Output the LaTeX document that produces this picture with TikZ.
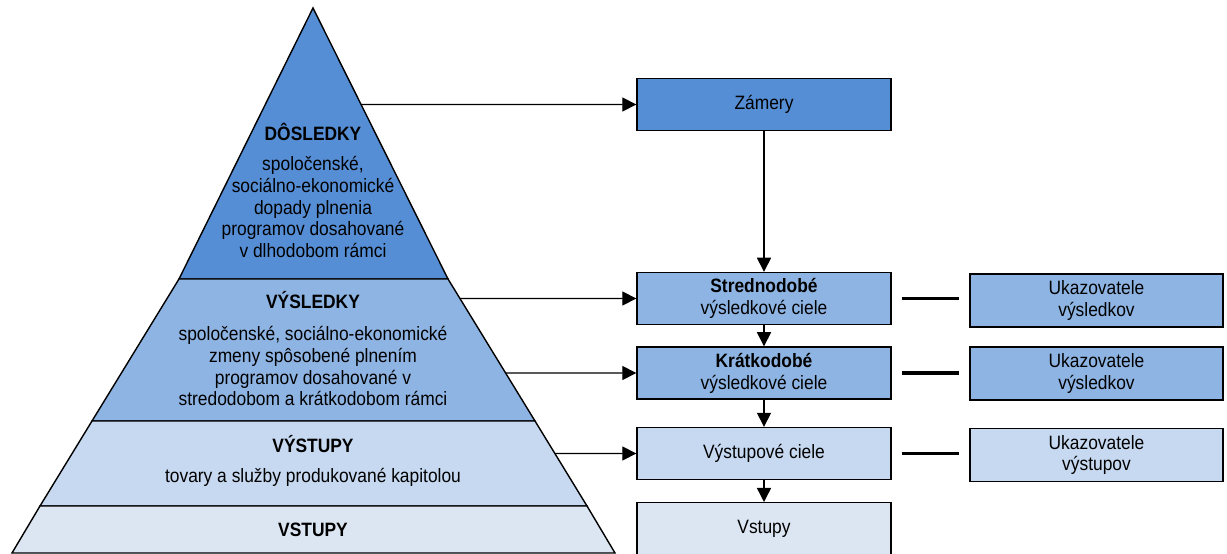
\documentclass[tikz,border=0pt]{standalone}
\usepackage{xcolor}
\usepackage{fontspec}
\setmainfont{Liberation Sans}[FakeStretch=0.9]
\usetikzlibrary{arrows.meta}

\definecolor{levelA}{HTML}{558ED5}
\definecolor{levelB}{HTML}{8EB4E3}
\definecolor{levelC}{HTML}{C6D9F1}
\definecolor{levelD}{HTML}{DCE6F2}

\begin{document}
\begin{tikzpicture}[
    x=0.02cm, y=-0.02cm,
    every node/.style={font=\fontsize{11}{12.5}\selectfont, align=center},
    band/.style={draw=black, line width=0.8pt, line join=miter},
    goal/.style={draw=black, line width=0.8pt, inner sep=0pt, minimum width=5.08cm, minimum height=1.04cm},
    meter/.style={draw=black, line width=0.8pt, inner sep=0pt, minimum width=5.06cm, minimum height=1.06cm},
    flow/.style={-{Triangle[length=8pt,width=8pt]}, line width=0.8pt},
    link/.style={line width=1.8pt, shorten <=0.2cm, shorten >=0.2cm}
]
\useasboundingbox (0,0) rectangle (1227,554);

% pyramid corners
\coordinate (top) at (313,8);
\coordinate (l1) at (179,279); \coordinate (r1) at (448,279);
\coordinate (l2) at (92,421);  \coordinate (r2) at (535,421);
\coordinate (l3) at (40,506);  \coordinate (r3) at (587,506);
\coordinate (l4) at (12,553);  \coordinate (r4) at (615,553);

% pyramid bands
\filldraw[band, fill=levelA] (top) -- (r1) -- (l1) -- cycle;
\filldraw[band, fill=levelB] (l1) -- (r1) -- (r2) -- (l2) -- cycle;
\filldraw[band, fill=levelC] (l2) -- (r2) -- (r3) -- (l3) -- cycle;
\filldraw[band, fill=levelD] (l3) -- (r3) -- (r4) -- (l4) -- cycle;

% pyramid texts
\node (dosHead) at (313,132) {\textbf{DÔSLEDKY}};
\node (dosText) at (313,207) {spoločenské,\\sociálno-ekonomické\\dopady plnenia\\programov dosahované\\v dlhodobom rámci};
\node (vysHead) at (313,300) {\textbf{VÝSLEDKY}};
\node (vysText) at (313,366) {spoločenské, sociálno-ekonomické\\zmeny spôsobené plnením\\programov dosahované v\\stredodobom a krátkodobom rámci};
\node (vystHead) at (313,444) {\textbf{VÝSTUPY}};
\node (vystText) at (313,477) {tovary a služby produkované kapitolou};
\node (vstHead) at (313,530) {\textbf{VSTUPY}};

% goal boxes
\node[goal, fill=levelA] (zam) at (764,104.5) {Zámery};
\node[goal, fill=levelB] (stred) at (764,298.5) {\textbf{Strednodobé}\\výsledkové ciele};
\node[goal, fill=levelB] (krat) at (764,373) {\textbf{Krátkodobé}\\výsledkové ciele};
\node[goal, fill=levelC] (vyst) at (764,453.5) {Výstupové ciele};
\node[goal, fill=levelD, anchor=north] (vst) at (764,502) {Vstupy};

% indicator boxes
\node[meter, fill=levelB] (ukaz1) at (1096.5,300.5) {Ukazovatele\\výsledkov};
\node[meter, fill=levelB] (ukaz2) at (1096.5,373.5) {Ukazovatele\\výsledkov};
\node[meter, fill=levelC] (ukaz3) at (1096.5,455) {Ukazovatele\\výstupov};

% arrow starts on the pyramid edge
\coordinate (fromDos) at (intersection of top--r1 and zam.west--zam.east);
\coordinate (fromStred) at (intersection of r1--r2 and stred.west--stred.east);
\coordinate (fromKrat) at (intersection of r1--r2 and krat.west--krat.east);
\coordinate (fromVyst) at (intersection of r2--r3 and vyst.west--vyst.east);

\draw[flow] (fromDos) -- (zam.west);
\draw[flow] (fromStred) -- (stred.west);
\draw[flow] (fromKrat) -- (krat.west);
\draw[flow] (fromVyst) -- (vyst.west);

% downward chain
\draw[flow] (zam) -- (stred);
\draw[flow] (stred) -- (krat);
\draw[flow] (krat) -- (vyst);
\draw[flow] (vyst) -- (vst);

% links to indicators
\draw[link] (stred.east) -- (stred.east -| ukaz1.west);
\draw[link] (krat.east) -- (krat.east -| ukaz2.west);
\draw[link] (vyst.east) -- (vyst.east -| ukaz3.west);
\end{tikzpicture}
\end{document}
